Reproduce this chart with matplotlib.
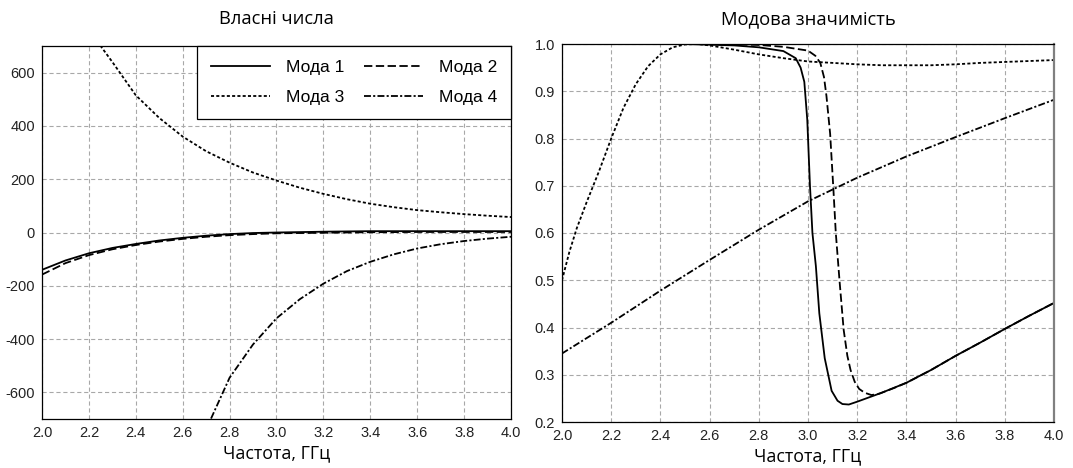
import matplotlib
matplotlib.use("Agg")
import matplotlib.pyplot as plt
import numpy as np

plt.rcParams['lines.scale_dashes'] = False
plt.rcParams['axes.unicode_minus'] = False

# ---- eigenvalues (left plot) ----
f1 = [2.0, 2.1, 2.2, 2.3, 2.4, 2.5, 2.6, 2.7, 2.8, 2.9, 3.0, 3.2, 3.4, 3.6, 3.8, 4.0]
ev1 = [-140, -105, -78, -58, -43, -30, -20, -12, -6, -2, 0, 3, 5, 5, 5, 5]
ev2 = [-158, -115, -85, -63, -47, -34, -24, -16, -10, -6, -3, -1, 1, 2, 2, 2]

f3 = [2.0, 2.1, 2.2, 2.25, 2.3, 2.4, 2.5, 2.6, 2.7, 2.8, 2.9, 3.0, 3.1, 3.2, 3.3,
      3.4, 3.5, 3.6, 3.7, 3.8, 3.9, 4.0]
ev3 = [1200, 950, 780, 700, 640, 515, 430, 360, 305, 262, 225, 195, 168, 145, 125,
       108, 95, 84, 76, 69, 63, 58]

f4 = [2.6, 2.65, 2.7, 2.72, 2.8, 2.9, 3.0, 3.1, 3.2, 3.3, 3.4, 3.5, 3.6, 3.7, 3.8, 3.9, 4.0]
ev4 = [-1000, -860, -740, -700, -545, -420, -322, -250, -192, -145, -110, -82, -60,
       -44, -32, -23, -16]

# ---- modal significance (right plot) ----
fm1 = [2.0, 2.5, 2.7, 2.8, 2.9, 2.95, 2.97, 2.985, 2.997, 3.008, 3.018, 3.032, 3.046,
       3.068, 3.096, 3.12, 3.14, 3.166, 3.2, 3.3, 3.4, 3.5, 3.6, 3.7, 3.8, 3.9, 4.0]
ms1 = [1.0, 1.0, 0.997, 0.993, 0.985, 0.97, 0.95, 0.92, 0.84, 0.70, 0.60, 0.53, 0.43,
       0.335, 0.266, 0.245, 0.238, 0.237, 0.243, 0.262, 0.283, 0.31, 0.34, 0.368,
       0.397, 0.425, 0.452]

fm2 = [2.0, 2.6, 2.8, 2.9, 3.0, 3.03, 3.05, 3.065, 3.075, 3.09, 3.103, 3.113, 3.128,
       3.145, 3.16, 3.173, 3.19, 3.208, 3.23, 3.258, 3.29, 3.35, 3.4, 3.5, 3.6, 3.7,
       3.8, 3.9, 4.0]
ms2 = [1.0, 1.0, 0.998, 0.994, 0.986, 0.975, 0.96, 0.93, 0.89, 0.81, 0.695, 0.60, 0.50,
       0.395, 0.34, 0.31, 0.285, 0.27, 0.262, 0.257, 0.26, 0.272, 0.283, 0.31, 0.34,
       0.368, 0.397, 0.425, 0.452]

fm3 = [2.0, 2.03, 2.06, 2.1, 2.15, 2.2, 2.25, 2.3, 2.35, 2.4, 2.45, 2.5, 2.55, 2.6, 2.7,
       2.8, 2.9, 3.0, 3.1, 3.2, 3.3, 3.4, 3.5, 3.6, 3.7, 3.8, 3.9, 4.0]
ms3 = [0.50, 0.56, 0.61, 0.665, 0.73, 0.80, 0.865, 0.915, 0.953, 0.978, 0.993, 0.999,
       1.0, 0.997, 0.988, 0.978, 0.970, 0.963, 0.960, 0.957, 0.955, 0.955, 0.955, 0.957,
       0.960, 0.962, 0.964, 0.966]

fm4 = [2.0, 2.2, 2.4, 2.6, 2.8, 3.0, 3.2, 3.4, 3.6, 3.8, 4.0]
ms4 = [0.345, 0.41, 0.478, 0.543, 0.607, 0.667, 0.717, 0.762, 0.803, 0.843, 0.882]

labels = ["Мода 1", "Мода 2", "Мода 3", "Мода 4"]
xticks = np.round(np.arange(2.0, 4.01, 0.2), 1)

styles = [dict(linestyle="-"),
          dict(linestyle=(0, (6, 2.5))),
          dict(linestyle=(0, (2.2, 1.6))),
          dict(linestyle=(0, (5, 1.6, 1.5, 1.6)))]

tick_font = "Liberation Sans"
title_font = "Open Sans"

fig = plt.figure(figsize=(10.73, 4.68), dpi=100)
ax1 = fig.add_axes([42 / 1073, 49 / 468, 469 / 1073, 373 / 468])
ax2 = fig.add_axes([562 / 1073, 46 / 468, 492 / 1073, 378 / 468])

def style_axes(ax):
    ax.set_xlim(2.0, 4.0)
    ax.set_xticks(xticks)
    ax.set_xticklabels(["%.1f" % v for v in xticks])
    ax.grid(True, color="#a8a8a8", linestyle=(0, (3, 2)), linewidth=0.8)
    ax.set_axisbelow(True)
    ax.tick_params(length=0, pad=5, labelsize=10.5, labelcolor="#222222")
    for lab in ax.get_xticklabels() + ax.get_yticklabels():
        lab.set_family(tick_font)
    for sp in ax.spines.values():
        sp.set_color("black")
        sp.set_linewidth(0.9)
    ax.set_xlabel("Частота, ГГц", family=title_font, fontsize=12.8, labelpad=3)

# left: eigenvalues
evs = [ev1, ev2, ev3, ev4]
fs = [f1, f1, f3, f4]
lines = []
for f, v, st, lab in zip(fs, evs, styles, labels):
    l, = ax1.plot(f, v, color="black", linewidth=1.3, label=lab, **st)
    lines.append(l)
ax1.set_ylim(-700, 700)
ax1.set_yticks([-600, -400, -200, 0, 200, 400, 600])
style_axes(ax1)
ax1.set_title("Власні числа", family=title_font, fontsize=13.2, pad=15.5)

order = [0, 2, 1, 3]
leg = ax1.legend([lines[i] for i in order], [labels[i] for i in order], ncol=2,
                 loc="upper right", bbox_to_anchor=(1.0, 1.0), borderaxespad=0,
                 fancybox=False, framealpha=1, edgecolor="black",
                 prop={"family": tick_font, "size": 12.5},
                 handlelength=3.4, handletextpad=0.92, columnspacing=1.15,
                 labelspacing=0.9, borderpad=0.78)
leg.get_frame().set_linewidth(0.9)

# right: modal significance
for f, v, st, lab in zip([fm1, fm2, fm3, fm4], [ms1, ms2, ms3, ms4], styles, labels):
    ax2.plot(f, v, color="black", linewidth=1.3, label=lab, **st)
ax2.set_ylim(0.2, 1.0)
yt = np.round(np.arange(0.2, 1.01, 0.1), 1)
ax2.set_yticks(yt)
ax2.set_yticklabels(["%.1f" % v for v in yt])
style_axes(ax2)
ax2.spines["right"].set_color("#808080")
ax2.spines["right"].set_linewidth(1.6)
ax2.set_title("Модова значимість", family=title_font, fontsize=13.2, pad=14)

plt.savefig("out.png", dpi=100)
